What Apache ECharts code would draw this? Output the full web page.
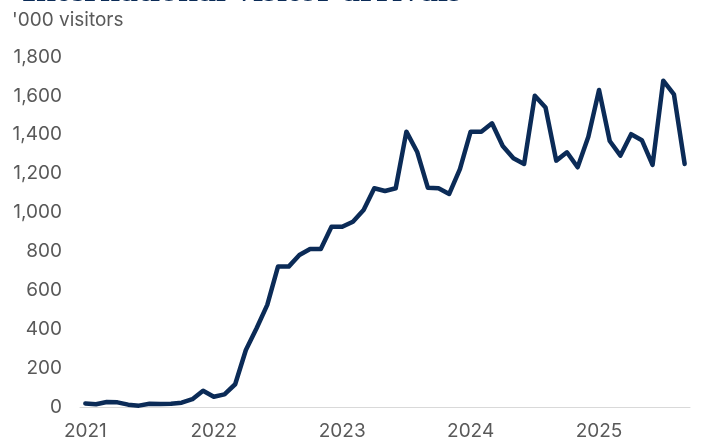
<!DOCTYPE html>
<html>
<head>
<meta charset="utf-8">
<script src="https://cdn.jsdelivr.net/npm/echarts@6/dist/echarts.min.js"></script>
<style>html,body{margin:0;padding:0;background:#fff;}#c{width:704px;height:441px;}</style>
</head>
<body>
<div id="c"></div>
<script>
const titleText = "International visitor arrivals";
const unitText = "'000 visitors";
const years = ["2021", "2022", "2023", "2024", "2025"];
const months = ["Jan","Feb","Mar","Apr","May","Jun","Jul","Aug","Sep","Oct","Nov","Dec"];
const values2021 = [18, 14, 26, 24, 12, 7, 17, 15, 17, 22, 40, 84];
const values2022 = [53, 65, 117, 293, 405, 525, 722, 722, 782, 813, 813, 927];
const values2023 = [927, 953, 1013, 1125, 1111, 1125, 1416, 1313, 1128, 1125, 1096, 1223];
const values2024 = [1416, 1416, 1459, 1342, 1279, 1250, 1601, 1540, 1267, 1310, 1233, 1390];
const values2025 = [1630, 1368, 1293, 1403, 1372, 1245, 1678, 1608, 1250];
const yTicks = [0, 200, 400, 600, 800, 1000, 1200, 1400, 1600, 1800];

const allValues = [values2021, values2022, values2023, values2024, values2025];
const categories = [];
const values = [];
allValues.forEach((arr, yi) => {
  arr.forEach((v, mi) => {
    categories.push(months[mi] + " " + years[yi]);
    values.push(v);
  });
});

const chart = echarts.init(document.getElementById('c'));
const labelFont = 'Inter';
chart.setOption({
  animation: false,
  backgroundColor: '#ffffff',
  graphic: [
    {
      type: 'text', left: 22, top: -26,
      style: { text: titleText, fill: '#0b2b57', font: 'bold 36px "Liberation Serif"' }
    },
    {
      type: 'text', left: 12, top: 11,
      style: { text: unitText, fill: '#595959', font: '19px ' + labelFont }
    }
  ],
  grid: { left: 80, right: 14, top: 57, bottom: 34, containLabel: false },
  xAxis: {
    type: 'category',
    data: categories,
    boundaryGap: true,
    axisLine: { show: true, lineStyle: { color: '#d9d9d9', width: 1 } },
    axisTick: { show: false },
    axisLabel: {
      interval: 11,
      margin: 15,
      color: '#595959',
      fontFamily: labelFont,
      fontSize: 19,
      formatter: (v) => v.split(' ')[1]
    },
    splitLine: { show: false }
  },
  yAxis: {
    type: 'value',
    min: yTicks[0],
    max: yTicks[yTicks.length - 1],
    interval: 200,
    axisLine: { show: false },
    axisTick: { show: false },
    splitLine: { show: false },
    axisLabel: {
      margin: 18,
      color: '#595959',
      fontFamily: labelFont,
      fontSize: 19,
      formatter: (v) => v.toLocaleString('en-US')
    }
  },
  series: [{
    type: 'line',
    data: values,
    symbol: 'none',
    lineStyle: { color: '#0b2b57', width: 4.5, cap: 'round', join: 'round' }
  }]
});
</script>
</body>
</html>
